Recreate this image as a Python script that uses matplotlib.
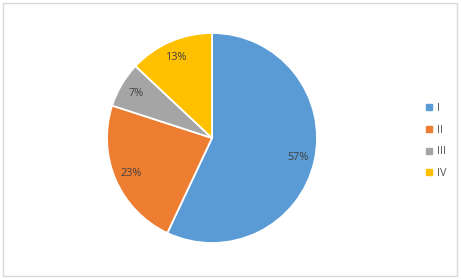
import matplotlib.pyplot as plt
from matplotlib.lines import Line2D
from matplotlib.patches import Rectangle

# data
categories = ['I', 'II', 'III', 'IV']
shares = [57, 23, 7, 13]
colors = ['#5B9BD5', '#ED7D31', '#A5A5A5', '#FFC000']

plt.rcParams['font.family'] = ['Open Sans', 'DejaVu Sans']

fig = plt.figure(figsize=(4.61, 2.79), dpi=100)
fig.patch.set_facecolor('white')

# light grey frame round the chart area
fig.patches.append(Rectangle((3 / 461, 3 / 279), 454 / 461, 273 / 279,
                             transform=fig.transFigure, fill=False,
                             edgecolor='#D9D9D9', linewidth=1.0))

# pie axes: centre ~ (212, 138) px, radius ~105 px
ax = fig.add_axes([(212 - 105) / 461, (279 - 138 - 105) / 279, 210 / 461, 210 / 279])
wedges, texts, autotexts = ax.pie(
    shares, colors=colors, startangle=90, counterclock=False,
    autopct='%1.0f%%', pctdistance=0.84,
    wedgeprops=dict(edgecolor='white', linewidth=1.3),
    textprops=dict(color='#404040', fontsize=7.8))
ax.set_xlim(-1.0, 1.0)
ax.set_ylim(-1.0, 1.0)
ax.set_aspect('equal')

# legend on the right
handles = [Line2D([], [], marker='s', linestyle='', markersize=4,
                  markerfacecolor=c, markeredgecolor=c) for c in colors]
fig.legend(handles, categories, loc='center left',
           bbox_to_anchor=(415 / 461, (279 - 141) / 279),
           frameon=False, fontsize=7.8, labelcolor='#595959',
           handlelength=0.8, handletextpad=0.3, labelspacing=1.0)

fig.savefig('out.png', dpi=100)
